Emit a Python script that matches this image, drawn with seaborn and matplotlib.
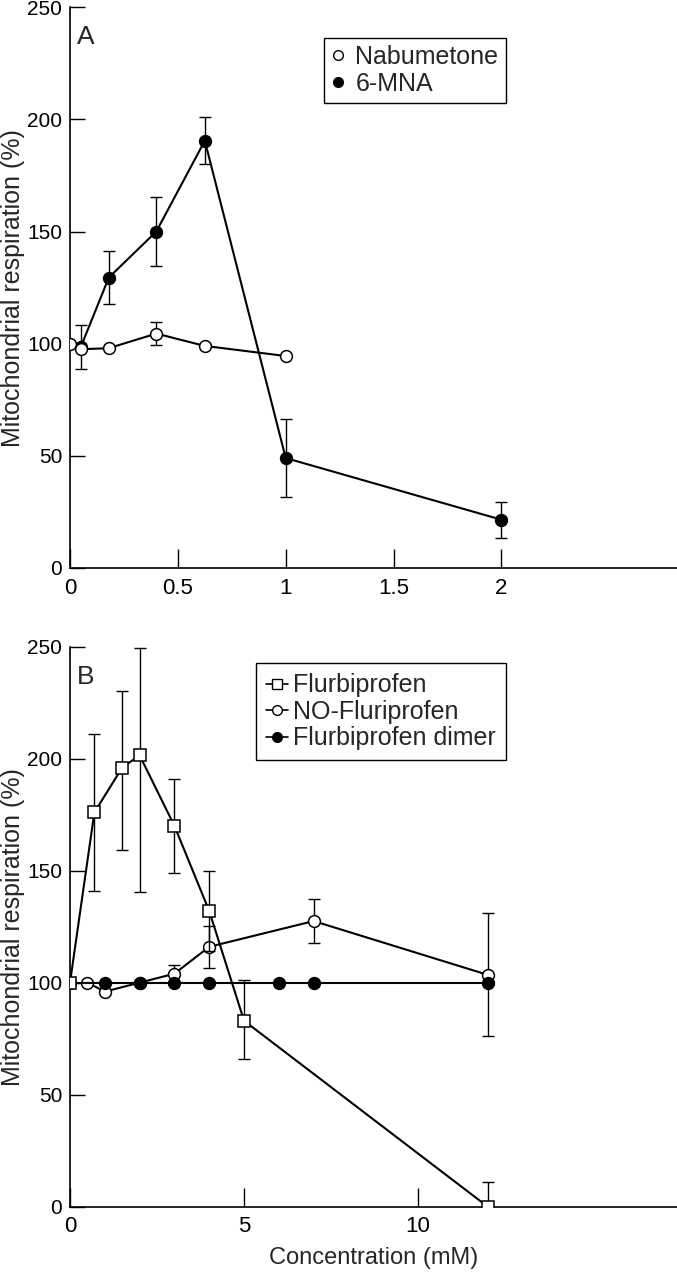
import matplotlib
matplotlib.use("Agg")
import matplotlib.pyplot as plt
import seaborn as sns
import pandas as pd
from matplotlib.lines import Line2D

# ---------------- data ----------------
# Panel A
nab_x = [0, 0.05, 0.18, 0.4, 0.625, 1.0]
nab_y = [100, 97.5, 98, 104.5, 99, 94.5]
nab_err = [0, 0, 0, 5, 0, 0]

mna_x = [0.05, 0.18, 0.4, 0.625, 1.0, 2.0]
mna_y = [98.5, 129.5, 150, 190.5, 49, 21.5]
mna_err = [10, 12, 15.5, 10.5, 17.5, 8]

# Panel B
flu_x = [0, 0.7, 1.5, 2, 3, 4, 5, 12]
flu_y = [100, 176, 196, 201.5, 170, 132, 83, 0]
flu_err_lo = [0, 35, 37, 61, 21, 18, 17, 11]
flu_err_hi = [0, 35, 34, 48, 21, 18, 18, 11]

no_x = [0.5, 1, 2, 3, 4, 7, 12]
no_y = [100, 96, 100, 104, 116, 127.5, 103.5]
no_err = [0, 0, 0, 4, 9.5, 10, 27.5]

dim_x = [0, 1, 2, 3, 4, 6, 7, 12]
dim_y = [100, 100, 100, 100, 100, 100, 100, 100]

yticks = [0, 50, 100, 150, 200, 250]
xticks_a = [0, 0.5, 1, 1.5, 2]
xticklabels_a = ["0", "0.5", "1", "1.5", "2"]
xticks_b = [0, 5, 10]
xticklabels_b = ["0", "5", "10"]

ylabel = "Mitochondrial respiration (%)"
xlabel = "Concentration (mM)"

# ---------------- style ----------------
sns.set_style("ticks")
plt.rcParams["font.family"] = ["Liberation Sans", "DejaVu Sans"]

fig = plt.figure(figsize=(6.77, 12.8), dpi=100)
axA = fig.add_axes([0.1034, 0.5563, 0.8966, 0.438])
axB = fig.add_axes([0.1034, 0.0573, 0.8966, 0.4375])

LW = 1.5
MS = 8.5
CAP = 4.5


def series(ax, x, y, err, marker, face, ms=MS, zorder=3):
    df = pd.DataFrame({"x": x, "y": y})
    if err is not None:
        ax.errorbar(x, y, yerr=err, fmt="none", ecolor="black",
                    elinewidth=1.0, capsize=CAP, capthick=1.0, zorder=zorder - 0.5)
    sns.lineplot(data=df, x="x", y="y", ax=ax, color="black", lw=LW,
                 marker=marker, markersize=ms, markerfacecolor=face,
                 markeredgecolor="black", markeredgewidth=1.1,
                 estimator=None, sort=False, zorder=zorder)


def style_axes(ax, xlim, xticks, xticklabels):
    ax.set_xlim(*xlim)
    ax.set_ylim(0, 250)
    ax.set_yticks(yticks)
    ax.set_yticklabels([str(t) for t in yticks])
    ax.set_xticks(xticks)
    ax.set_xticklabels(xticklabels)
    sns.despine(ax=ax)
    for s in ["left", "bottom"]:
        ax.spines[s].set_linewidth(1.2)
        ax.spines[s].set_color("black")
    ax.tick_params(axis="y", direction="in", length=11, width=1.0,
                   labelsize=15, pad=5.5, colors="black")
    ax.tick_params(axis="x", direction="in", length=14, width=1.0,
                   labelsize=16, pad=7, colors="black")
    ax.set_ylabel(ylabel, fontsize=18)
    ax.yaxis.set_label_coords(-0.074, 0.5)
    ax.set_xlabel("")


# Panel A
series(axA, mna_x, mna_y, mna_err, "o", "black", zorder=3)
series(axA, nab_x, nab_y, nab_err, "o", "white", zorder=4)
style_axes(axA, (0, 2.814), xticks_a, xticklabels_a)
axA.text(0.012, 0.968, "A", transform=axA.transAxes, fontsize=19,
         ha="left", va="top")
handlesA = [
    Line2D([], [], ls="none", marker="o", color="black", markerfacecolor="white",
           markersize=7, markeredgewidth=1.0),
    Line2D([], [], ls="none", marker="o", color="black", markerfacecolor="black",
           markersize=7),
]
legA = axA.legend(handlesA, ["Nabumetone", "6-MNA"], loc="upper right",
                  bbox_to_anchor=(0.718, 0.946), fontsize=18, frameon=True,
                  fancybox=False, framealpha=1, edgecolor="black",
                  handlelength=0.5, handletextpad=0.45, borderpad=0.3,
                  labelspacing=0.1, borderaxespad=0)
legA.get_frame().set_linewidth(1.0)

# Panel B
series(axB, no_x, no_y, no_err, "o", "white", zorder=3)
series(axB, dim_x, dim_y, None, "o", "black", zorder=4)
series(axB, flu_x, flu_y, [flu_err_lo, flu_err_hi], "s", "white", ms=8, zorder=5)
style_axes(axB, (0, 17.44), xticks_b, xticklabels_b)
axB.set_xlabel(xlabel, fontsize=17, labelpad=7)
axB.text(0.012, 0.968, "B", transform=axB.transAxes, fontsize=19,
         ha="left", va="top")
handlesB = [
    Line2D([], [], color="black", lw=1.2, marker="s", markerfacecolor="white",
           markersize=7, markeredgewidth=1.0),
    Line2D([], [], color="black", lw=1.2, marker="o", markerfacecolor="white",
           markersize=7, markeredgewidth=1.0),
    Line2D([], [], color="black", lw=1.2, marker="o", markerfacecolor="black",
           markersize=7),
]
legB = axB.legend(handlesB, ["Flurbiprofen", "NO-Fluriprofen", "Flurbiprofen dimer"],
                  loc="upper right", bbox_to_anchor=(0.718, 0.970), fontsize=18,
                  frameon=True, fancybox=False, framealpha=1, edgecolor="black",
                  handlelength=0.9, handletextpad=0.2, borderpad=0.4,
                  labelspacing=0.1, borderaxespad=0)
legB.get_frame().set_linewidth(1.0)

fig.savefig("out.png", dpi=100)
